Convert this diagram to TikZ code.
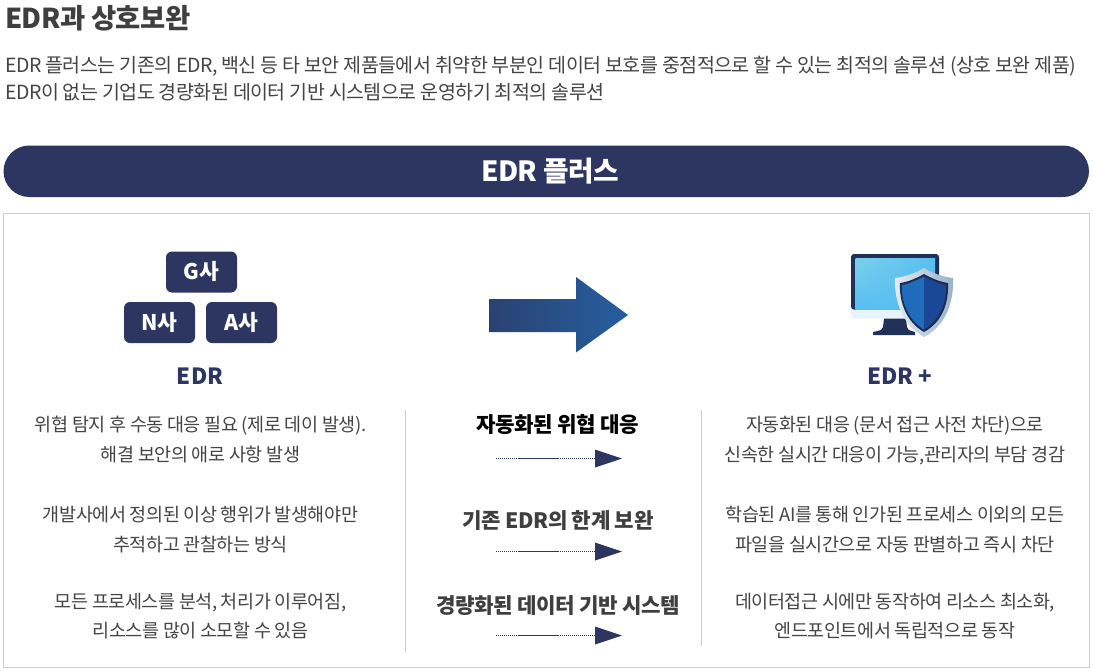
\documentclass[tikz,border=0pt]{standalone}
\usepackage{fontspec}
\setmainfont{Noto Sans CJK KR}
\newfontfamily\bodyf[LetterSpace=-2.5]{Noto Sans CJK KR}
\newfontfamily\headf[LetterSpace=-2]{Noto Sans CJK KR}
\usetikzlibrary{shadings}
\definecolor{navy}{HTML}{2D3561}
\definecolor{bodytext}{HTML}{444444}
\definecolor{headtext}{HTML}{3F3F3F}
\definecolor{rulegray}{HTML}{CCCCCC}
\definecolor{arrowL}{RGB}{42,66,114}
\definecolor{arrowR}{RGB}{38,94,160}
\definecolor{monlip}{RGB}{232,243,250}
\definecolor{mondark}{RGB}{32,48,86}
\definecolor{scrA}{RGB}{125,208,236}
\definecolor{scrB}{RGB}{88,190,240}
\definecolor{shL}{RGB}{228,236,243}
\definecolor{shR}{RGB}{150,178,200}
\definecolor{shInk}{RGB}{30,44,84}
\definecolor{shBlueL}{RGB}{30,108,186}
\definecolor{shBlueR}{RGB}{26,72,150}
\tikzset{
  txt/.style={inner sep=0pt,text depth=0pt},
  para/.style={txt,anchor=west,text height=14.8pt,font=\bodyf\fontsize{19.5}{22}\selectfont,text=bodytext},
  body/.style={txt,text height=14pt,font=\bodyf\fontsize{18.5}{22}\selectfont,text=bodytext},
  colhead/.style={txt,text height=16pt,font=\headf\bfseries\fontsize{21.2}{24}\selectfont,text=headtext},
  vendor/.style={draw=none,fill=navy,rounded corners=6pt,minimum width=71pt,minimum height=41pt,inner sep=0pt,text height=15pt,text depth=0pt,text=white,font=\bfseries\fontsize{21.5}{24}\selectfont},
  edrlabel/.style={txt,text height=16pt,font=\bfseries\fontsize{22.3}{24}\selectfont,text=navy},
  sep/.style={draw=rulegray,line width=1pt},
  dotline/.style={draw=navy,line width=0.8pt,dash pattern=on 1pt off 1pt},
  solidline/.style={draw=navy,line width=0.9pt},
  headtip/.style={fill=navy,draw=none}
}
\begin{document}
\begin{tikzpicture}[x=1pt,y=-1pt]
\useasboundingbox (0,0) rectangle (1093,672);
\fill[white] (0,0) rectangle (1093,672);
% heading
\node[txt,anchor=west,text height=20.8pt,font=\headf\bfseries\fontsize{27.4}{30}\selectfont,text=headtext] (title) at (5,18) {EDR과 상호보완};
\node[para] (p1) at (5,65) {EDR 플러스는 기존의 EDR, 백신 등 타 보안 제품들에서 취약한 부분인 데이터 보호를 중점적으로 할 수 있는 최적의 솔루션 (상호 보완 제품)};
\node[para] (p2) at (5,92) {EDR이 없는 기업도 경량화된 데이터 기반 시스템으로 운영하기 최적의 솔루션};
% banner
\fill[navy,rounded corners=25.9pt] (3.5,145.5) rectangle (1089,197);
\node[txt,text height=21pt,font=\headf\bfseries\fontsize{27.8}{30}\selectfont,text=white] (banner) at (550,171) {EDR 플러스};
% panel
\draw[rulegray,line width=1pt] (3.5,213.5) rectangle (1089.5,667.5);
% vendors
\node[vendor] (g) at (201.5,272) {G사};
\node[vendor] (n) at (159.5,322.5) {N사};
\node[vendor] (a) at (241.5,322.5) {A사};
\node[edrlabel] (edr) at (200,376) {EDR};
\node[edrlabel] (edrp) at (900,376) {EDR +};
% big arrow
\shade[left color=arrowL,right color=arrowR]
  (489,299) -- (576,299) -- (576,277) -- (628,315) -- (576,352.5) -- (576,332) -- (489,332) -- cycle;
% monitor
\fill[monlip,rounded corners=3pt] (851,300) -- (939,300) -- (939,318.5) -- (851,318.5) -- cycle;
\fill[mondark,rounded corners=3pt] (851,254) -- (939,254) -- (939,309.5) -- (851,309.5) -- cycle;
\shade[lower left=scrB,upper left=scrA,upper right=scrB,lower right=scrB] (855.5,258.5) rectangle (935,309);
\fill[mondark] (884,318.5) -- (906,318.5) -- (907,327) .. controls (908,331) and (912,331) .. (915,332) -- (915,335) -- (873,335) -- (873,332) .. controls (877,331) and (882,331) .. (883,327) -- cycle;
% shield
\shade[left color=shL,right color=shR]
  (924,268) .. controls (932,273) and (943,277) .. (953,278) .. controls (954,300) and (947,325) .. (924,337) .. controls (902,325) and (894,300) .. (895,278) .. controls (905,277) and (916,273) .. (924,268) -- cycle;
\fill[shInk] (924,274) .. controls (931,278) and (940,282) .. (948,283) .. controls (949,301) and (943,322) .. (924,332) .. controls (906,322) and (899,301) .. (900,283) .. controls (908,282) and (917,278) .. (924,274) -- cycle;
\fill[shBlueL] (924,276.5) .. controls (917,280) and (909,284) .. (902,285) .. controls (901,301) and (908,320) .. (924,329.5) -- cycle;
\fill[shBlueR] (924,276.5) .. controls (931,280) and (939,284) .. (946,285) .. controls (947,301) and (940,320) .. (924,329.5) -- cycle;
% separators
\coordinate (s1a) at (405.5,410); \coordinate (s1b) at (405.5,652);
\coordinate (s2a) at (701.5,410); \coordinate (s2b) at (701.5,646);
\draw[sep] (s1a) -- (s1b);
\draw[sep] (s2a) -- (s2b);
% left column
\node[body] (l1) at (200.5,424) {위협 탐지 후 수동 대응 필요 (제로 데이 발생).};
\node[body] (l2) at (200.5,454) {해결 보안의 애로 사항 발생};
\node[body] (l3) at (200.5,514) {개발사에서 정의된 이상 행위가 발생해야만};
\node[body] (l4) at (200.5,544) {추적하고 관찰하는 방식};
\node[body] (l5) at (200.5,601) {모든 프로세스를 분석, 처리가 이루어짐,};
\node[body] (l6) at (200.5,630) {리소스를 많이 소모할 수 있음};
% right column
\node[body] (r1) at (895,424) {자동화된 대응 (문서 접근 사전 차단)으로};
\node[body] (r2) at (895,454) {신속한 실시간 대응이 가능,관리자의 부담 경감};
\node[body] (r3) at (895,514) {학습된 AI를 통해 인가된 프로세스 이외의 모든};
\node[body] (r4) at (895,544) {파일을 실시간으로 자동 판별하고 즉시 차단};
\node[body] (r5) at (895,601) {데이터접근 시에만 동작하여 리소스 최소화,};
\node[body] (r6) at (895,630) {엔드포인트에서 독립적으로 동작};
% centre column
\node[colhead,text=black] (c1) at (558,424) {자동화된 위협 대응};
\node[colhead] (c2) at (558,520) {기존 EDR의 한계 보완};
\node[colhead] (c3) at (558,605) {경량화된 데이터 기반 시스템};
\foreach \n/\y in {1/458.5,2/551.5,3/635.5}{
  \coordinate (as\n) at (496,\y);
  \coordinate (am\n) at (519,\y);
  \coordinate (an\n) at (559,\y);
  \coordinate (ab\n) at (595,\y);
  \coordinate (at\n) at (622,\y);
  \draw[dotline] (as\n) -- (ab\n);
  \draw[solidline] (am\n) -- (an\n);
  \fill[headtip] (595,\y-9) -- (at\n) -- (595,\y+9) -- cycle;
}
\end{tikzpicture}
\end{document}
